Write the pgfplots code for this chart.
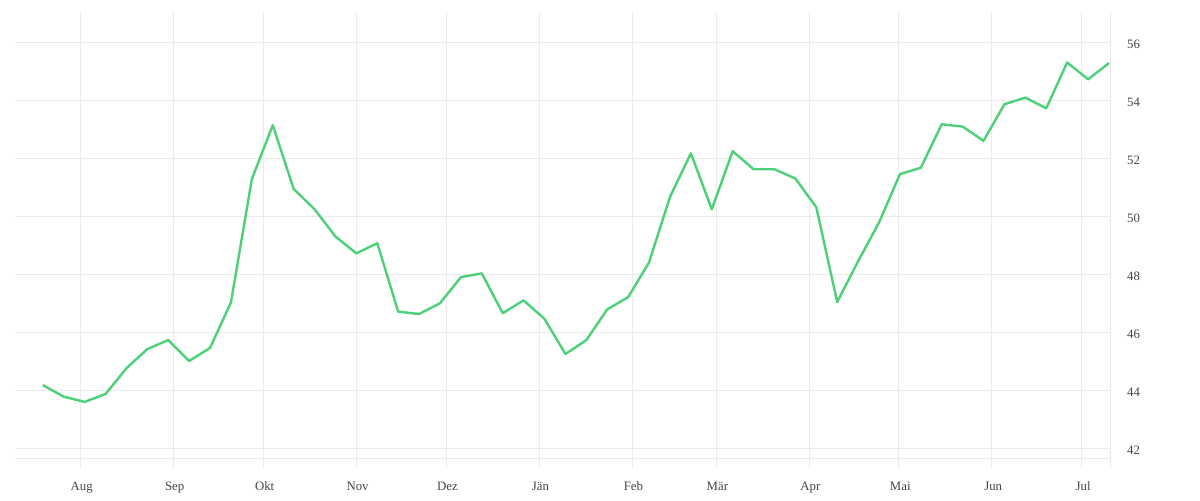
\documentclass[border=0pt]{standalone}
\usepackage{pgfplots}
\pgfplotsset{compat=1.18}
\usepackage{fontspec}
\setmainfont{Liberation Serif}
\definecolor{gridgray}{HTML}{EBEBEB}
\definecolor{linegreen}{HTML}{4CD078}
\definecolor{labelgray}{HTML}{444444}
\begin{document}
\begin{tikzpicture}[x=1pt,y=1pt]
\useasboundingbox (0,0) rectangle (900,375);
\begin{axis}[
  scale only axis,
  width=821.25pt, height=334.5pt,
  at={(11.25pt,31.275pt)}, anchor=south west,
  xmin=-1.33, xmax=51.05,
  ymin=41.655, ymax=57.03,
  axis line style={draw=none},
  xtick={1.80,6.246,10.549,14.995,19.297,23.743,28.189,32.205,36.651,40.954,45.40,49.70},
  xticklabels={Aug,Sep,Okt,Nov,Dez,Jän,Feb,Mär,Apr,Mai,Jun,Jul},
  extra x ticks={51.05},
  extra x tick labels={},
  extra x tick style={grid=major},
  ytick={42,44,...,56},
  extra y ticks={41.655},
  extra y tick labels={},
  extra y tick style={grid=major},
  grid=major,
  major grid style={draw=gridgray, line width=0.75pt},
  xtick pos=lower,
  ytick pos=right,
  tick align=outside,
  major tick length=7.5pt,
  x tick style={draw=gridgray, line width=0.75pt},
  y tick style={draw=none},
  yticklabel pos=right,
  /pgf/number format/assume math mode=true,
  ticklabel style={font=\fontsize{9.6}{11}\selectfont, text=labelgray},
  xticklabel style={yshift=-6.5pt, xshift=1pt},
  yticklabel style={anchor=west, xshift=1.8pt, yshift=-1.5pt},
]
\addplot[linegreen, line width=1.8pt, line join=round] coordinates {
(0,44.18) (1,43.78) (2,43.60) (3,43.87) (4,44.76) (5,45.42) (6,45.73) (7,45.01)
(8,45.46) (9,47.03) (10,51.28) (11,53.14) (12,50.94) (13,50.24) (14,49.30) (15,48.72)
(16,49.07) (17,46.71) (18,46.63) (19,47.00) (20,47.90) (21,48.03) (22,46.66) (23,47.10)
(24,46.46) (25,45.25) (26,45.73) (27,46.79) (28,47.21) (29,48.41) (30,50.66) (31,52.17)
(32,50.24) (33,52.24) (34,51.62) (35,51.62) (36,51.30) (37,50.31) (38,47.04) (39,48.45)
(40,49.78) (41,51.45) (42,51.67) (43,53.17) (44,53.09) (45,52.60) (46,53.86) (47,54.09)
(48,53.72) (49,55.30) (50,54.72) (51,55.28)
};
\end{axis}
\end{tikzpicture}
\end{document}
